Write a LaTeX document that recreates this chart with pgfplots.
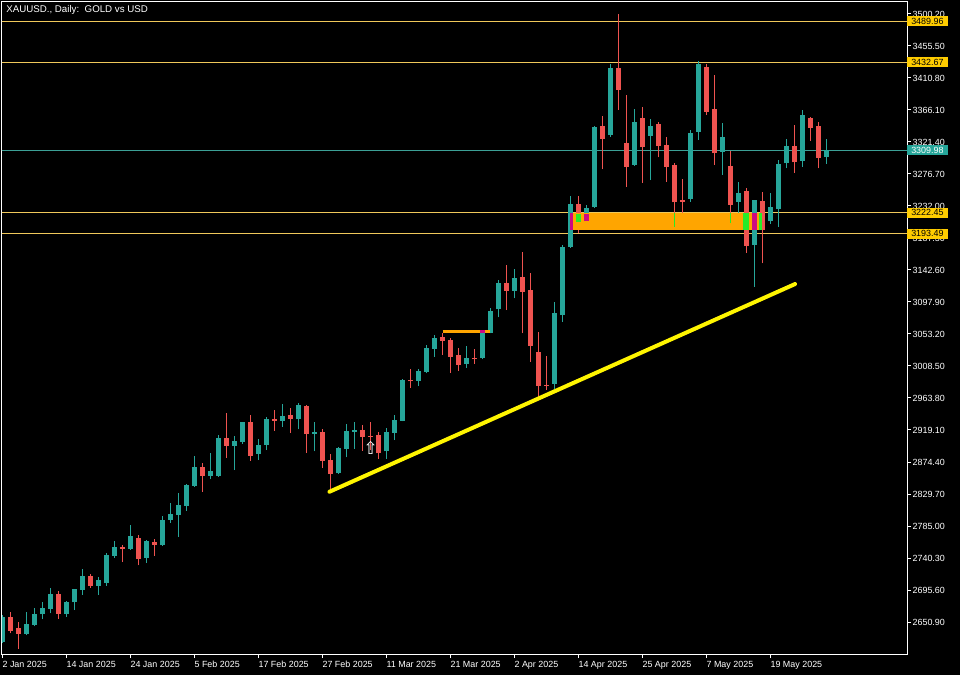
\documentclass[border=0pt]{standalone}
\usepackage{pgfplots}
\pgfplotsset{compat=1.18}
\usepackage{pgfplotstable}
\usepackage{fontspec}
\setmainfont{Liberation Sans}
\newfontfamily\dejavu{DejaVu Sans}
\definecolor{bullc}{RGB}{38,166,154}
\definecolor{bearc}{RGB}{239,83,80}
\definecolor{hlinec}{RGB}{240,200,90}
\definecolor{tlinec}{RGB}{60,160,150}
\definecolor{goldbox}{RGB}{255,204,0}
\definecolor{zonec}{RGB}{255,165,0}
\definecolor{magc}{RGB}{205,10,130}
\definecolor{limec}{RGB}{40,235,40}
\definecolor{trendc}{RGB}{255,245,0}
\newcommand\ybox[1]{{\setlength\fboxsep{1.4pt}\colorbox{goldbox}{\color{black}\hspace{1.6pt}#1\hspace{1.6pt}}}}
\newcommand\tbox[1]{{\setlength\fboxsep{1.4pt}\colorbox{bullc}{\color{white}\hspace{1.6pt}#1\hspace{1.6pt}}}}

\pgfplotstableread{
i O H L C
0 2623.4 2661.0 2621.0 2657.5
3 2634.1 2664.4 2632.2 2648.1
4 2646.7 2669.8 2644.7 2662.4
5 2661.5 2679.2 2654.7 2670.8
6 2669.4 2698.6 2663.0 2690.4
8 2662.4 2680.1 2658.3 2678.2
9 2678.2 2697.5 2667.6 2696.9
10 2695.9 2724.6 2689.3 2715.3
12 2701.3 2713.3 2689.3 2709.7
13 2705.1 2747.0 2701.3 2745.1
14 2743.1 2763.6 2740.3 2756.2
16 2753.4 2786.7 2752.0 2771.4
18 2740.3 2765.4 2733.7 2764.5
20 2758.1 2799.0 2757.0 2793.4
21 2793.4 2816.7 2789.6 2801.8
22 2800.8 2830.7 2770.0 2813.9
23 2813.0 2843.7 2806.4 2841.9
24 2840.9 2882.8 2839.5 2867.0
26 2854.9 2887.4 2850.3 2862.3
27 2854.9 2912.5 2853.5 2907.9
29 2897.2 2910.2 2863.2 2904.2
30 2902.3 2930.6 2899.6 2929.7
32 2885.6 2906.1 2877.2 2898.1
33 2898.1 2937.2 2891.1 2934.9
35 2932.1 2955.4 2923.7 2938.7
37 2934.0 2956.4 2920.0 2953.6
39 2913.5 2930.6 2889.3 2916.3
42 2858.6 2895.8 2857.5 2894.4
43 2892.6 2927.5 2880.9 2918.1
44 2916.8 2930.6 2893.0 2919.1
48 2889.3 2921.9 2879.1 2916.3
49 2915.3 2939.7 2905.1 2933.1
50 2932.1 2990.0 2931.0 2988.9
52 2988.0 3003.9 2980.6 3002.0
53 3000.1 3037.4 2998.3 3034.1
54 3032.6 3051.4 3021.5 3048.0
58 3011.3 3036.4 3005.7 3020.1
60 3019.2 3058.8 3017.8 3055.6
61 3055.0 3089.5 3054.0 3085.9
62 3087.6 3128.6 3076.5 3124.9
64 3113.7 3143.6 3103.1 3131.4
69 2983.4 3098.0 2975.9 3083.0
70 3079.8 3177.5 3070.4 3175.2
71 3175.2 3246.0 3174.0 3234.8
73 3210.1 3233.4 3209.0 3229.2
74 3230.2 3343.8 3229.0 3342.9
76 3331.2 3429.9 3328.8 3424.3
79 3289.3 3367.5 3288.0 3349.8
81 3330.2 3353.5 3268.3 3343.8
86 3241.8 3338.2 3238.0 3334.4
87 3335.8 3434.6 3324.2 3430.4
90 3307.9 3347.5 3275.3 3327.9
92 3238.0 3265.5 3214.8 3249.7
94 3177.5 3241.0 3119.3 3240.4
96 3211.5 3249.7 3206.9 3231.0
97 3227.8 3296.3 3203.1 3290.7
98 3291.6 3325.2 3284.7 3316.2
100 3294.9 3366.1 3286.9 3359.1
103 3300.9 3326.0 3290.7 3309.98
}\bull

\pgfplotstableread{
i O H L C
1 2657.5 2664.4 2635.1 2638.8
2 2641.9 2650.5 2613.6 2634.5
7 2690.4 2693.7 2655.6 2662.4
11 2715.3 2717.6 2698.6 2701.3
15 2756.2 2759.0 2734.7 2753.4
17 2768.2 2772.8 2730.1 2738.9
19 2762.6 2766.5 2743.1 2759.0
25 2867.0 2872.6 2832.5 2854.9
28 2907.9 2943.3 2880.0 2897.2
31 2929.7 2939.7 2876.2 2882.8
34 2934.9 2947.0 2918.1 2932.1
36 2940.6 2950.3 2915.3 2934.9
38 2952.6 2953.6 2887.4 2913.5
40 2916.3 2920.0 2865.8 2876.2
41 2877.2 2885.6 2833.0 2858.0
45 2919.1 2925.7 2890.2 2909.8
46 2911.1 2930.6 2891.1 2909.7
47 2912.5 2916.3 2879.1 2886.5
51 2988.9 3003.9 2977.8 2987.1
55 3048.6 3054.2 3023.9 3043.4
56 3044.8 3048.0 2999.1 3021.5
57 3023.9 3033.6 3002.0 3009.9
59 3020.1 3032.6 3011.3 3017.8
63 3124.9 3149.6 3086.7 3113.7
65 3133.3 3167.7 3054.2 3112.3
66 3114.7 3138.0 3014.6 3036.4
67 3028.5 3056.0 2965.6 2980.6
68 2982.6 3022.4 2975.0 2980.6
72 3235.0 3246.0 3193.9 3211.0
75 3343.8 3357.7 3283.3 3326.0
77 3424.3 3500.2 3366.1 3394.0
78 3319.6 3387.1 3259.0 3286.9
80 3354.5 3370.7 3264.6 3314.0
82 3346.5 3349.3 3300.0 3315.8
83 3317.2 3328.8 3266.0 3286.9
84 3289.3 3291.6 3203.1 3237.2
85 3240.4 3269.7 3221.8 3238.0
88 3426.6 3430.4 3359.1 3363.7
89 3367.1 3415.0 3289.3 3305.6
91 3287.9 3309.2 3207.8 3233.4
93 3252.9 3256.7 3166.8 3176.1
95 3239.0 3252.0 3152.0 3198.5
99 3316.2 3344.7 3278.5 3293.0
101 3354.5 3356.7 3323.2 3341.4
102 3343.8 3349.8 3284.7 3299.5
}\bear

\begin{document}
\begin{tikzpicture}
\useasboundingbox (-1.5pt,-15.75pt) rectangle (718.5pt,490.5pt);
\fill[black] (-1.5pt,-15.75pt) rectangle (718.5pt,490.5pt);
\begin{axis}[
  at={(0pt,0pt)}, anchor=south west,
  scale only axis, width=678.75pt, height=489pt,
  xmin=-0.0375, xmax=113.09, ymin=2606.2, ymax=3516.96,
  axis line style={white, line width=0.75pt},
  tick style={white, line width=0.75pt},
  tick align=outside, major tick length=3pt,
  xtick pos=bottom, ytick pos=right, yticklabel pos=right,
  xtick={0,8,...,96},
  xticklabels={2 Jan 2025, 14 Jan 2025, 24 Jan 2025, 5 Feb 2025, 17 Feb 2025, 27 Feb 2025, 11 Mar 2025, 21 Mar 2025, 2 Apr 2025, 14 Apr 2025, 25 Apr 2025, 7 May 2025, 19 May 2025},
  ytick={2650.9,2695.6,2740.3,2785.0,2829.7,2874.4,2919.1,2963.8,3008.5,3053.2,3097.9,3142.6,3187.3,3232.0,3276.7,3321.4,3366.1,3410.8,3455.5,3500.2},
  yticklabels={2650.90,2695.60,2740.30,2785.00,2829.70,2874.40,2919.10,2963.80,3008.50,3053.20,3097.90,3142.60,3187.30,3232.00,3276.70,3321.40,3366.10,3410.80,3455.50,3500.20},
  extra y ticks={3489.96,3432.67,3309.98,3222.45,3193.49},
  extra y tick labels={\ybox{3489.96},\ybox{3432.67},\tbox{3309.98},\ybox{3222.45},\ybox{3193.49}},
  extra y tick style={major tick length=0pt, yticklabel style={xshift=-1pt}},
  yticklabel style={white, font=\fontsize{6.7}{7}\selectfont, inner sep=1pt},
  xticklabel style={white, font=\fontsize{6.7}{7}\selectfont, anchor=north west, inner sep=0pt, yshift=-2pt},
]
% horizontal levels
\addplot[hlinec, line width=0.75pt] coordinates {(-1,3489.96) (114,3489.96)};
\addplot[hlinec, line width=0.75pt] coordinates {(-1,3432.67) (114,3432.67)};
\addplot[hlinec, line width=0.75pt] coordinates {(-1,3222.45) (114,3222.45)};
\addplot[hlinec, line width=0.75pt] coordinates {(-1,3193.49) (114,3193.49)};
\addplot[tlinec, line width=0.75pt] coordinates {(-1,3309.98) (114,3309.98)};
% wicks
\addplot[bullc, line width=0.75pt, quiver={u=0, v=\thisrow{H}-\thisrow{L}}] table[x=i, y=L] {\bull};
\addplot[bearc, line width=0.75pt, quiver={u=0, v=\thisrow{H}-\thisrow{L}}] table[x=i, y=L] {\bear};
% bodies
\addplot[bullc, line width=3.5pt, quiver={u=0, v=\thisrow{C}-\thisrow{O}}] table[x=i, y=O] {\bull};
\addplot[bearc, line width=3.5pt, quiver={u=0, v=\thisrow{O}-\thisrow{C}}] table[x=i, y=C] {\bear};
% zone
\addplot[draw=none, fill=zonec] coordinates {(71,3198.0) (95,3198.0) (95,3222.45) (71,3222.45)} -- cycle;
\addplot[draw=none, fill=magc] coordinates {(71,3198.0) (71.3,3198.0) (71.3,3222.45) (71,3222.45)} -- cycle;
\addplot[draw=none, fill=limec] coordinates {(71.7,3209.0) (72.3,3209.0) (72.3,3220.7) (71.7,3220.7)} -- cycle;
\addplot[draw=none, fill=magc] coordinates {(72.7,3211.5) (73.3,3211.5) (73.3,3220.7) (72.7,3220.7)} -- cycle;
\addplot[draw=none, fill=limec] coordinates {(92.6,3198.0) (93.4,3198.0) (93.4,3222.45) (92.6,3222.45)} -- cycle;
\addplot[draw=none, fill=magc] coordinates {(93.7,3198.0) (94.3,3198.0) (94.3,3222.45) (93.7,3222.45)} -- cycle;
\addplot[draw=none, fill=limec] coordinates {(94.6,3198.0) (95.0,3198.0) (95.0,3222.45) (94.6,3222.45)} -- cycle;
\addplot[limec, line width=0.75pt] coordinates {(84,3203.1) (84,3222.45)};
\addplot[limec, line width=0.75pt] coordinates {(91,3207.8) (91,3222.45)};
% short orange level
\addplot[zonec, line width=2.25pt] coordinates {(55.05,3056.4) (60.96,3056.4)};
\addplot[magc, line width=2.25pt] coordinates {(59.7,3056.4) (60.3,3056.4)};
% trend line
\addplot[trendc, line width=3pt, line cap=round] coordinates {(40.9,2832.9) (99.1,3123.0)};
% arrow
\addplot[only marks, mark=text, text mark={\dejavu\fontsize{13}{13}\selectfont ⇧}, text mark as node=true, text mark style={text=white, inner sep=0pt}] coordinates {(46.05,2894.5)};
\node[anchor=north west, text=white, font=\fontsize{7.3}{8}\selectfont, inner sep=0pt] at (rel axis cs:0,1) [xshift=3pt, yshift=-2.5pt] {XAUUSD., Daily:\ \ GOLD vs USD};
\end{axis}
\end{tikzpicture}
\end{document}
